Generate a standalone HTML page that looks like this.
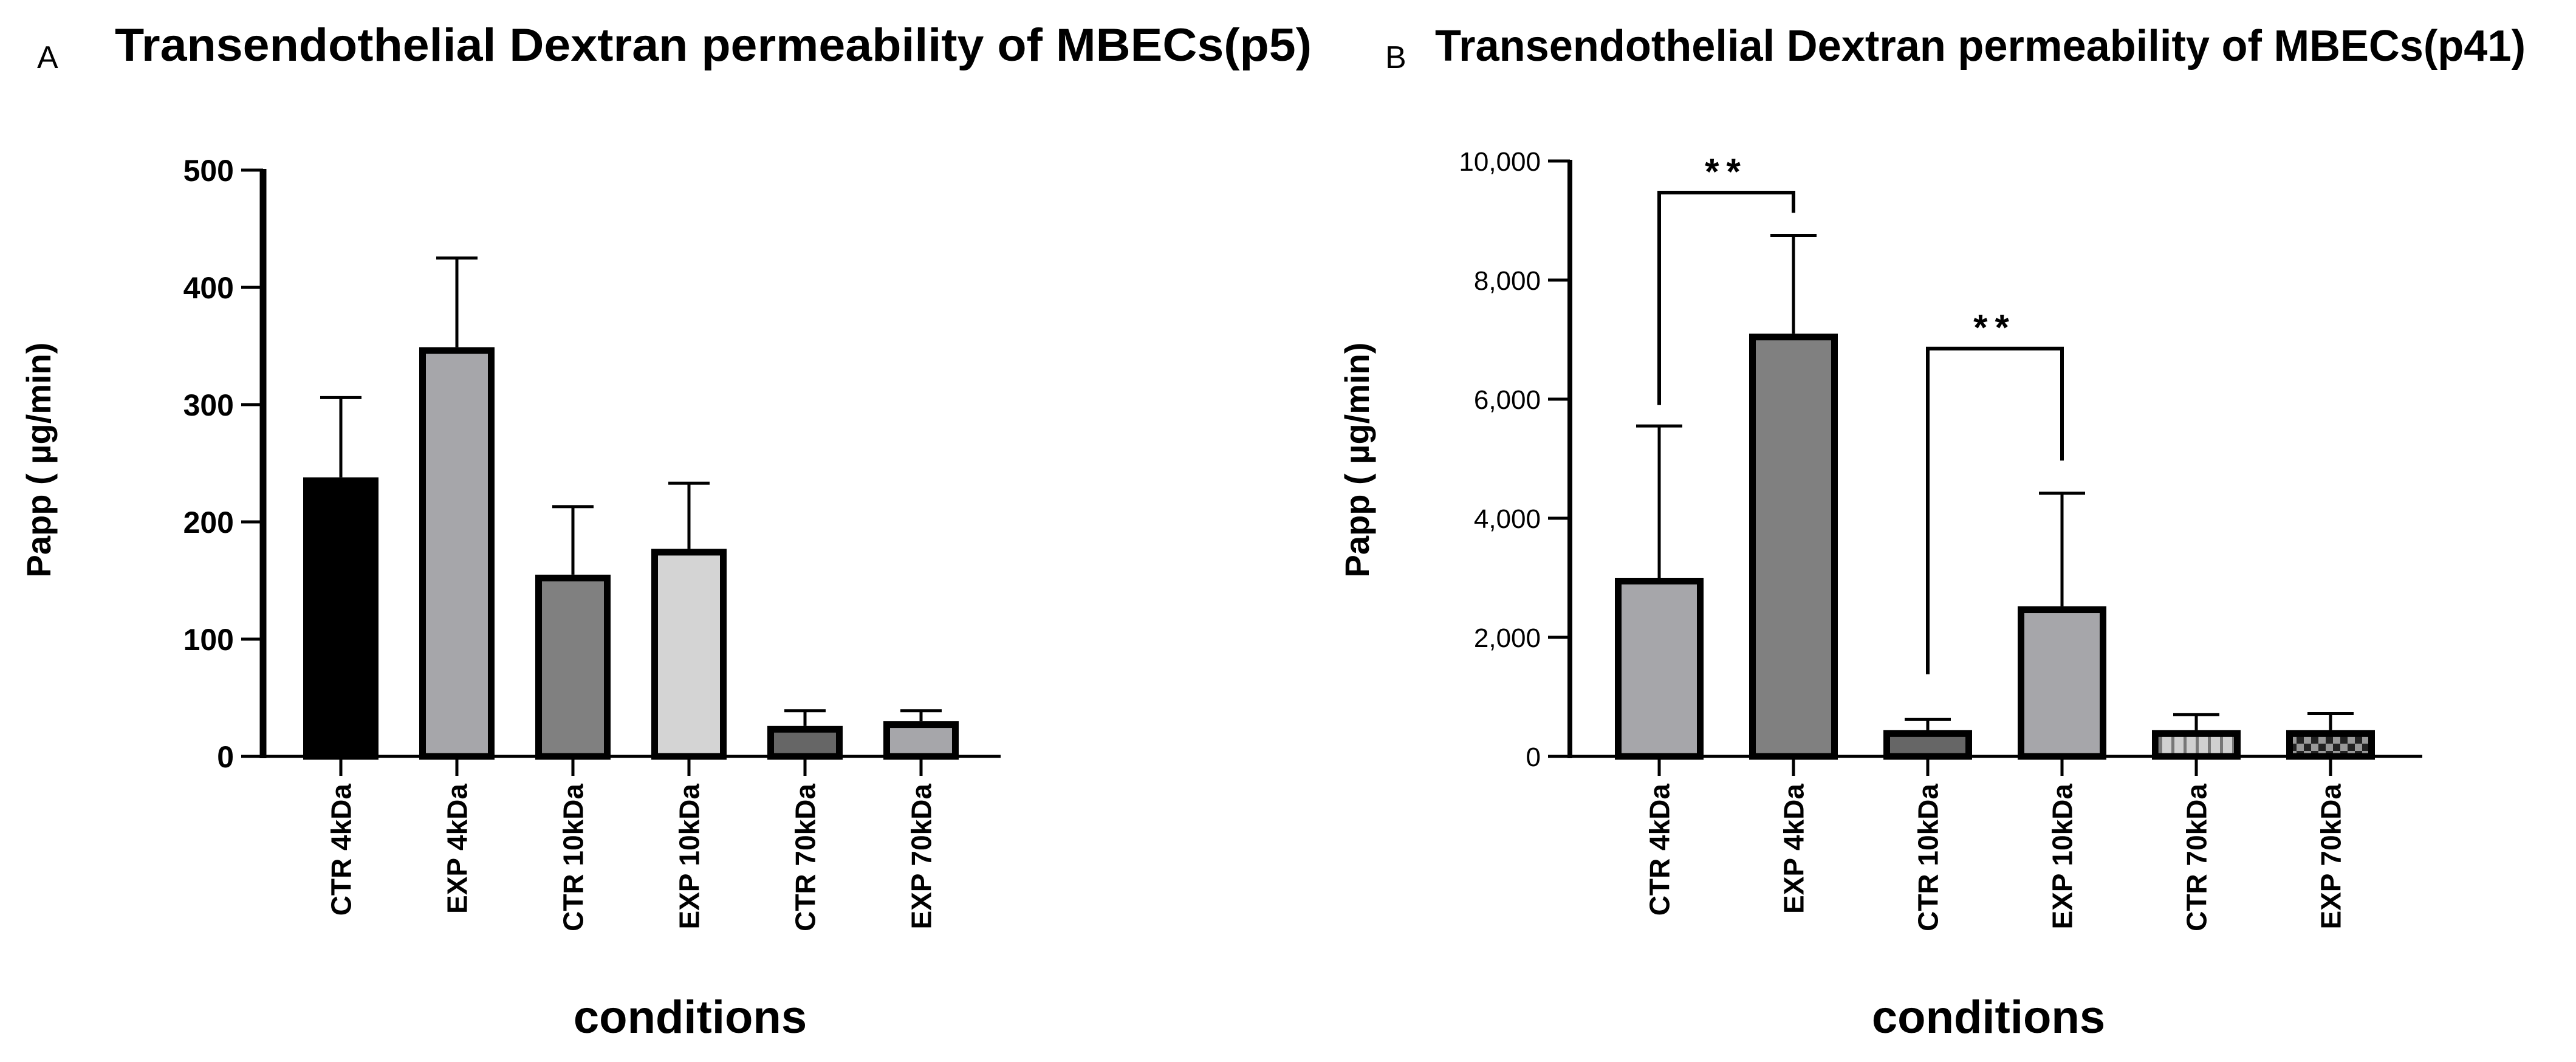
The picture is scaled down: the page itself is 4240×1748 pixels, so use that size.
<!DOCTYPE html>
<html><head><meta charset="utf-8"><style>
html,body{margin:0;padding:0;background:#fff;}
svg{display:block;font-family:"Liberation Sans",sans-serif;}
</style></head><body>
<svg id="fig" width="4240" height="1748" viewBox="0 0 4240 1748" xmlns="http://www.w3.org/2000/svg">
<defs>
<pattern id="stripes" width="20" height="20" patternUnits="userSpaceOnUse">
<rect width="20" height="20" fill="#d0d0d0"/><rect x="14" width="5" height="20" fill="#777"/>
</pattern>
<pattern id="checks" width="24" height="24" patternUnits="userSpaceOnUse">
<rect width="24" height="24" fill="#999"/><rect width="12" height="12" fill="#222"/><rect x="12" y="12" width="12" height="12" fill="#222"/>
</pattern>
</defs>
<text x="61" y="112" font-size="52">A</text>
<text x="189" y="100" font-size="76" font-weight="bold" textLength="1970" lengthAdjust="spacingAndGlyphs">Transendothelial Dextran permeability of MBECs(p5)</text>
<text x="2280" y="112" font-size="52">B</text>
<text x="2362" y="100" font-size="72" font-weight="bold" textLength="1795" lengthAdjust="spacingAndGlyphs">Transendothelial Dextran permeability of MBECs(p41)</text>
<g id="pa"></g>
<g id="pb"></g>
</svg>
<script>
const categories = ["CTR 4kDa","EXP 4kDa","CTR 10kDa","EXP 10kDa","CTR 70kDa","EXP 70kDa"];
const valuesA = [238, 349, 155, 177, 26, 30];
const errorsA = [306, 425, 213, 233, 39, 39];
const ticksA = [0, 100, 200, 300, 400, 500];
const tickLabelsA = ["0","100","200","300","400","500"];
const valuesB = [3000, 7100, 440, 2520, 440, 440];
const errorsB = [5550, 8750, 620, 4420, 700, 720];
const ticksB = [0, 2000, 4000, 6000, 8000, 10000];
const tickLabelsB = ["0","2,000","4,000","6,000","8,000","10,000"];
const bracketsB = [
  {from:0, to:1, top:9470, leftEnd:5900, rightEnd:9130, label:"**"},
  {from:2, to:3, top:6850, leftEnd:1380, rightEnd:4970, label:"**"}
];
const NS = "http://www.w3.org/2000/svg";
function mk(parent, tag, attrs, text){
  const e = document.createElementNS(NS, tag);
  for (const k in attrs) e.setAttribute(k, attrs[k]);
  if (text !== undefined) e.textContent = text;
  parent.appendChild(e); return e;
}
function drawPanel(g, cfg){
  const y = v => cfg.y0 - (v - 0) / cfg.vmax * (cfg.y0 - cfg.yTop);
  const x = i => cfg.x0 + cfg.firstGap + i * cfg.step;
  cfg.values.forEach((v,i)=>{
    const bw = cfg.bw, bt = 11;
    const r = mk(g,'rect',{x:x(i)-bw/2+bt/2, y:y(v)+bt/2, width:bw-bt, height:Math.max(0,cfg.y0-y(v)-bt/2), fill:cfg.fills[i], stroke:'#000','stroke-width':bt});
    
    
    const e = mk(g,'path',{d:`M${x(i)} ${y(v)} V${y(cfg.errors[i])} M${x(i)-cfg.cap/2} ${y(cfg.errors[i])} H${x(i)+cfg.cap/2}`, stroke:'#000','stroke-width':5, fill:'none'});
    
    
    const t = mk(g,'line',{x1:x(i), y1:cfg.y0, x2:x(i), y2:cfg.y0+32, stroke:'#000','stroke-width':5});
    
    
    const lx = x(i)+cfg.labelFont*0.36, ly = cfg.y0+45;
    const lb = mk(g,'text',{x:lx, y:ly, 'font-size':cfg.labelFont, 'font-weight':'bold', 'text-anchor':'end', transform:`rotate(-90 ${lx} ${ly})`}, categories[i]);
    
    
  });
  const ya = mk(g,'line',{x1:cfg.x0, y1:cfg.yTop-2, x2:cfg.x0, y2:cfg.y0+3, stroke:'#000','stroke-width':cfg.axisW});
  
  
  const xa = mk(g,'line',{x1:cfg.x0-32, y1:cfg.y0, x2:cfg.xEnd, y2:cfg.y0, stroke:'#000','stroke-width':5});
  
  
  cfg.ticks.forEach((tv,k)=>{
    const tl = mk(g,'line',{x1:cfg.x0-36, y1:y(tv), x2:cfg.x0, y2:y(tv), stroke:'#000','stroke-width':5});
    
    
    const tx = mk(g,'text',{x:cfg.x0-48, y:y(tv)+cfg.tickFont*0.36, 'font-size':cfg.tickFont, 'font-weight':cfg.tickWeight, 'text-anchor':'end', 'font-family':cfg.tickFamily}, cfg.tickLabels[k]);
    
    
  });
  const yt = mk(g,'text',{x:cfg.ytx, y:757, 'font-size':56, 'font-weight':'bold', 'text-anchor':'middle', transform:`rotate(-90 ${cfg.ytx} 757)`}, 'Papp ( µg/min)');
  
  
  const xt = mk(g,'text',{x:cfg.xtx, y:1700, 'font-size':76, 'font-weight':'bold', 'text-anchor':'middle'}, 'conditions');
  
  
  (cfg.brackets||[]).forEach(b=>{
    const p = mk(g,'path',{d:`M${x(b.from)} ${y(b.leftEnd)} V${y(b.top)} H${x(b.to)} V${y(b.rightEnd)}`, stroke:'#000','stroke-width':6, fill:'none'});
    
    
    const s = mk(g,'text',{x:(x(b.from)+x(b.to))/2, y:y(b.top)-14, 'font-size':60, 'font-weight':'bold', 'text-anchor':'middle', 'letter-spacing':12}, b.label);
    
    
  });
}
drawPanel(document.getElementById('pa'), {
  values:valuesA, errors:errorsA, ticks:ticksA, tickLabels:tickLabelsA, vmax:500,
  x0:433, y0:1245, yTop:280, xEnd:1647, firstGap:128, step:191, bw:124, cap:68,
  fills:['#000','#a6a6aa','#808080','#d4d4d4','#666','#a6a6aa'],
  axisW:11, tickFont:50, tickWeight:'bold', tickFamily:'"Liberation Sans",sans-serif',
  labelFont:46, ytx:83, xtx:1136
});
drawPanel(document.getElementById('pb'), {
  values:valuesB, errors:errorsB, ticks:ticksB, tickLabels:tickLabelsB, brackets:bracketsB, vmax:10000,
  x0:2584, y0:1245, yTop:265, xEnd:3987, firstGap:147, step:221, bw:146, cap:76,
  fills:['#a6a6aa','#808080','#666','#a6a6aa','url(#stripes)','url(#checks)'],
  axisW:8, tickFont:44, tickWeight:'normal', tickFamily:'"Liberation Sans Narrow","Liberation Sans",sans-serif',
  labelFont:46, ytx:2253, xtx:3273
});
</script>
</body></html>
